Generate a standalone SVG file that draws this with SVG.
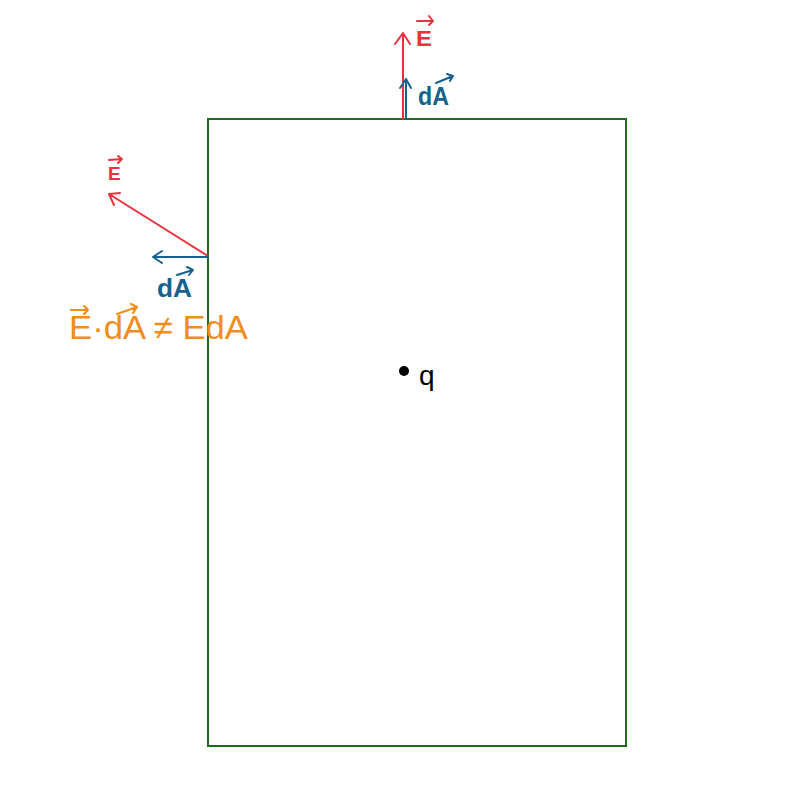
<svg xmlns="http://www.w3.org/2000/svg" width="800" height="800" viewBox="0 0 800 800">
<style>
.red{stroke:#e8323c;fill:none;stroke-width:2;stroke-linecap:round;stroke-linejoin:round}
.blue{stroke:#17628c;fill:none;stroke-width:2;stroke-linecap:round;stroke-linejoin:round}
.org{stroke:#f28c1e;fill:none;stroke-width:2.2;stroke-linecap:round;stroke-linejoin:round}
.tr{fill:#e8323c;font-family:"Liberation Sans",Arial,sans-serif}
.tb{fill:#17628c;font-family:"Liberation Sans",Arial,sans-serif}
.to{fill:#f28c1e;font-family:"Liberation Sans",Arial,sans-serif}
</style>
<rect width="800" height="800" fill="#fff"/>
<g id="surface"><rect x="208" y="119" width="418" height="627" fill="none" stroke="#1e6b1e" stroke-width="2"/></g>
<g id="connectors">
<path class="red" d="M403 119 L403 33 M395 44 L403 33 L410 44"/>
<path class="blue" d="M406 119 L406 79 M400 88 L406 79 L411 88"/>
<path class="red" d="M208 256 L109 194 M120 193 L109 194 L114 205"/>
<path class="blue" d="M208 257 L153 257 M162 251 L153 257 L162 263"/>
</g>
<g id="label-E-top">
<text class="tr" x="416" y="46" font-size="22" textLength="16" lengthAdjust="spacingAndGlyphs" font-weight="bold">E</text>
<path class="red" d="M417 21 L433 21 M429 16 L433 21 L429 25"/>
</g>
<g id="label-dA-top">
<text class="tb" x="418" y="105" font-size="25" textLength="31" lengthAdjust="spacingAndGlyphs" font-weight="bold">dA</text>
<path class="blue" d="M436 83 L453 76 M447 74 L453 76 L450 81"/>
</g>
<g id="label-E-left">
<text class="tr" x="108" y="180" font-size="19" font-weight="bold">E</text>
<path class="red" d="M109 160 L122 159 M118 156 L122 159 L118 163"/>
</g>
<g id="label-dA-left">
<text class="tb" x="157" y="297" font-size="26" textLength="35" lengthAdjust="spacingAndGlyphs" font-weight="bold">dA</text>
<path class="blue" d="M177 275 L193 270 M187 267 L193 270 L189 275"/>
</g>
<g id="label-equation">
<text class="to" x="69" y="339" font-size="33" textLength="179" lengthAdjust="spacingAndGlyphs">E·dA ≠ EdA</text>
<path class="org" d="M71 310 L88 310 M84 306 L88 310 L84 314"/>
<path class="org" d="M117 314 L137 307 M131 304 L137 307 L133 313"/>
</g>
<g id="charge">
<circle cx="404" cy="371" r="5" fill="#000"/>
<text x="419" y="385" font-size="28" font-family="Liberation Sans,Arial,sans-serif" fill="#000">q</text>
</g>
</svg>
